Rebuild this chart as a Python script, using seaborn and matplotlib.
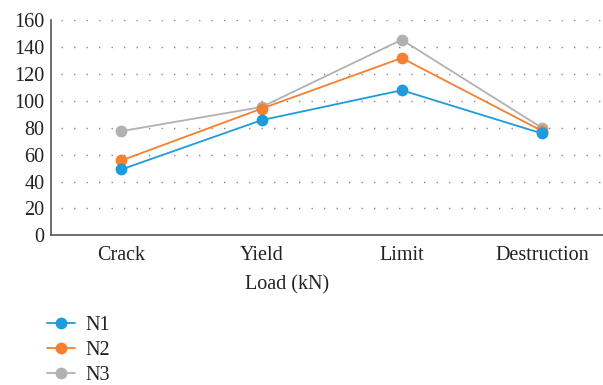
import matplotlib
matplotlib.use("Agg")
import matplotlib.pyplot as plt
import seaborn as sns
import pandas as pd

stages = ["Crack", "Yield", "Limit", "Destruction"]
n1 = [49, 85.7, 108, 75.8]
n2 = [55.7, 94.3, 132, 77.7]
n3 = [77.5, 95.5, 145.6, 80]
series_names = ["N1", "N2", "N3"]
y_ticks = [0, 20, 40, 60, 80, 100, 120, 140, 160]

colors = ["#1E9BDC", "#F5802F", "#B1B1B4"]

sns.set_theme(style="white")
plt.rcParams["font.family"] = ["Liberation Serif", "DejaVu Serif"]

df = pd.DataFrame({
    "stage": stages * 3,
    "value": n1 + n2 + n3,
    "series": [s for s in series_names for _ in stages],
})
df["pos"] = df["stage"].map({s: i for i, s in enumerate(stages)})

fig = plt.figure(figsize=(6.03, 3.85), dpi=100)
ax = fig.add_axes([0.085, 0.389, 0.93, 0.558])

# N3 drawn first so N1 sits on top
for name, col in zip(series_names[::-1], colors[::-1]):
    sub = df[df["series"] == name]
    sns.lineplot(data=sub, x="pos", y="value", ax=ax, color=col, lw=1.3,
                 marker="o", markersize=8.5, markeredgewidth=0, label=name,
                 legend=False)

ax.set_xlim(-0.5, 3.5)
ax.set_ylim(0, 160)
ax.set_yticks(y_ticks)
ax.set_xticks(range(len(stages)))
ax.set_xticklabels(stages)
ax.tick_params(axis="both", length=0, labelsize=14.5, colors="#222222")
ax.tick_params(axis="x", pad=8)
ax.tick_params(axis="y", pad=5)
for y in y_ticks[1:]:
    ax.axhline(y, xmin=0.018, xmax=0.985, color="#888888", lw=1.0,
               linestyle=(0, (1, 8)), zorder=0)
for side in ["top", "right"]:
    ax.spines[side].set_visible(False)
for side in ["left", "bottom"]:
    ax.spines[side].set_color("#555555")
    ax.spines[side].set_linewidth(1.2)
ax.set_xlabel("Load (kN)", fontsize=14.5, color="#222222")
ax.xaxis.set_label_coords(0.421, -0.185)
ax.set_ylabel("")

handles = [plt.Line2D([], [], color=c, lw=1.3, marker="o", markersize=8.5,
                      markeredgewidth=0) for c in colors]
fig.legend(handles, series_names, loc="upper left",
           bbox_to_anchor=(0.064, 0.2), frameon=False, fontsize=14.5,
           handlelength=1.4, handletextpad=0.55, labelspacing=0.3,
           borderaxespad=0, labelcolor="#222222")

fig.savefig("out.png", dpi=100)
